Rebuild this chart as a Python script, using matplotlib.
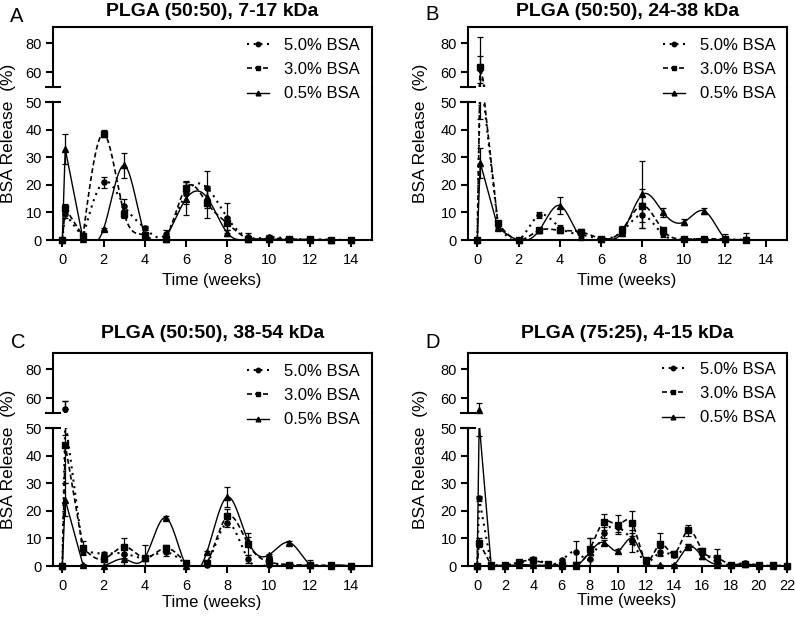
import numpy as np
import matplotlib
matplotlib.use("Agg")
import matplotlib.pyplot as plt
from matplotlib.lines import Line2D

plt.rcParams['font.family'] = ['Liberation Sans', 'DejaVu Sans']

# ---------------- data ----------------
weeks_AC = [0, 1/7] + list(range(1, 15))
weeks_B = [0, 1/7] + list(range(1, 14))
weeks_D = [0, 1/7] + list(range(1, 23))

A5 = [0, 9.5, 1.0, 21.0, 12.5, 4.3, 2.0, 17.0, 19.0, 8.0, 1.0, 1.0, 0.5, 0.2, 0.1, 0]
A5e = [0, 1.5, 0.5, 2.0, 2.5, 0.8, 1.5, 4.0, 6.0, 5.5, 1.5, 0.8, 0.3, 0.2, 0.1, 0]
A3 = [0, 11.5, 1.5, 38.5, 9.5, 1.8, 0.5, 19.0, 13.5, 6.0, 0.5, 0.5, 0.3, 0.2, 0.1, 0]
A3e = [0, 1.5, 0.5, 1.3, 1.5, 0.5, 0.5, 2.5, 5.5, 2.5, 0.5, 0.3, 0.2, 0.1, 0.1, 0]
A05 = [0, 33.0, 0.5, 4.0, 27.0, 1.5, 0.5, 15.0, 15.5, 2.5, 0.3, 0.3, 0.2, 0.1, 0.0, 0]
A05e = [0, 5.5, 0.3, 0.5, 4.5, 0.5, 0.5, 6.0, 4.0, 1.0, 0.2, 0.2, 0.1, 0.1, 0, 0]

B5 = [0, 62, 5.5, 0, 9.0, 4.5, 2.0, 0.5, 3.0, 9.0, 2.0, 0.3, 0.3, 0.2, 0.1]
B5e = [0, 9, 1.0, 0, 1.0, 0.8, 1.0, 0.3, 1.0, 4.5, 0.8, 0.2, 0.2, 0.1, 0.1]
B3 = [0, 64, 6.0, 0, 3.5, 3.5, 3.0, 0.5, 3.5, 12.5, 3.5, 0.3, 0.5, 0.2, 0.1]
B3e = [0, 20, 1.0, 0, 0.8, 0.8, 1.0, 0.3, 1.5, 6.0, 1.0, 0.2, 0.2, 0.1, 0.1]
B05 = [0, 28, 4.5, 0, 3.5, 12.5, 1.0, 0.5, 2.5, 16.5, 10.0, 6.5, 10.5, 0.5, 0.5]
B05e = [0, 5.5, 0.5, 0, 1.0, 3.2, 1.0, 0.3, 1.0, 12.0, 1.5, 1.0, 1.2, 1.5, 2.0]

C5 = [0, 53, 5.5, 4.5, 4.5, 3.0, 5.0, 0.5, 0.5, 15.5, 2.5, 0.5, 0.3, 0.2, 0.1, 0]
C5e = [0, 5.5, 1.0, 0.5, 1.5, 0.5, 1.5, 0.3, 0.3, 1.5, 1.5, 0.3, 0.2, 0.1, 0.1, 0]
C3 = [0, 44, 6.5, 2.5, 7.0, 3.0, 6.5, 1.0, 1.0, 18.0, 8.0, 1.5, 0.5, 0.3, 0.2, 0]
C3e = [0, 14, 2.5, 1.0, 3.0, 0.5, 1.0, 0.5, 1.0, 2.5, 4.0, 1.0, 0.3, 0.2, 0.1, 0]
C05 = [0, 24, 0.5, 0, 2.5, 3.0, 17.5, 0, 5.0, 25.0, 9.0, 4.0, 8.5, 0.5, 0.1, 0]
C05e = [0, 6, 0.3, 0, 2.0, 4.5, 0.5, 0, 0.5, 3.5, 1.5, 0.5, 0.5, 1.5, 0.1, 0]

D5 = [0, 24.5, 0.3, 0.3, 1.0, 2.5, 0.8, 2.0, 5.2, 2.5, 12.0, 14.0, 9.0, 1.5, 5.0, 4.0, 7.0, 5.0, 1.5, 0.5, 1.0, 0.2, 0.1, 0]
D5e = [0, 1.0, 0.2, 0.2, 0.5, 0.5, 0.5, 0.5, 3.8, 3.0, 2.0, 1.5, 4.0, 0.5, 1.5, 0.8, 1.0, 1.0, 1.0, 0.3, 0.3, 0.1, 0.1, 0]
D3 = [0, 8.5, 0.3, 0.3, 1.5, 2.0, 0.8, 0.3, 0.3, 6.0, 16.0, 15.0, 15.5, 2.0, 8.0, 4.5, 13.0, 5.5, 3.0, 0.5, 0.8, 0.2, 0.2, 0]
D3e = [0, 1.5, 0.2, 0.2, 0.5, 0.5, 0.5, 0.3, 0.3, 4.0, 3.0, 3.5, 4.5, 1.0, 4.0, 1.0, 2.0, 1.0, 3.0, 0.3, 0.3, 0.1, 0.1, 0]
D05 = [0, 52, 0.1, 0, 0.5, 0.3, 0.3, 0, 0, 5.0, 8.5, 5.5, 10.0, 1.5, 0.3, 0.5, 7.0, 3.5, 0.5, 0.3, 0.8, 0, 0, 0]
D05e = [0, 5, 0.1, 0, 0.3, 0.2, 0.2, 0, 0, 5.0, 1.0, 0.8, 2.0, 1.0, 0.2, 0.3, 1.0, 1.0, 0.3, 0.2, 0.3, 0, 0, 0]

series_labels = ['5.0% BSA', '3.0% BSA', '0.5% BSA']
titles = ['PLGA (50:50), 7-17 kDa', 'PLGA (50:50), 24-38 kDa',
          'PLGA (50:50), 38-54 kDa', 'PLGA (75:25), 4-15 kDa']
panel_letters = ['A', 'B', 'C', 'D']
lower_yticks = [0, 10, 20, 30, 40, 50]
upper_yticks = [60, 80]

# ---------------- helpers ----------------
W, H = 795, 617


def natural_spline(x, y, n=800):
    x = np.asarray(x, float)
    y = np.asarray(y, float)
    N = len(x)
    h = np.diff(x)
    A = np.zeros((N, N))
    b = np.zeros(N)
    A[0, 0] = 1
    A[-1, -1] = 1
    for i in range(1, N - 1):
        A[i, i - 1] = h[i - 1]
        A[i, i] = 2 * (h[i - 1] + h[i])
        A[i, i + 1] = h[i]
        b[i] = 6 * ((y[i + 1] - y[i]) / h[i] - (y[i] - y[i - 1]) / h[i - 1])
    M = np.linalg.solve(A, b)
    xs = np.union1d(np.linspace(x[0], x[-1], n), x)
    idx = np.clip(np.searchsorted(x, xs) - 1, 0, N - 2)
    x0 = x[idx]
    x1 = x[idx + 1]
    hh = x1 - x0
    t0 = x1 - xs
    t1 = xs - x0
    ys = (M[idx] * t0 ** 3 + M[idx + 1] * t1 ** 3) / (6 * hh) \
        + (y[idx] / hh - M[idx] * hh / 6) * t0 \
        + (y[idx + 1] / hh - M[idx + 1] * hh / 6) * t1
    return xs, ys


def connect(x, y):
    # straight segments through the initial burst, smooth spline afterwards
    xs, ys = natural_spline(x[2:], y[2:])
    return np.concatenate([x[:2], xs]), np.concatenate([y[:2], ys])


styles = [
    dict(ls=(0, (1.0, 2.2)), lw=1.5, marker='o', ms=3.7),
    dict(ls=(0, (3.0, 1.8)), lw=1.2, marker='s', ms=3.7),
    dict(ls='-', lw=1.0, marker='^', ms=3.9),
]

fig = plt.figure(figsize=(W / 100, H / 100), dpi=100)


def px_axes(l, r, top, bot):
    return fig.add_axes([l / W, 1 - bot / H, (r - l) / W, (bot - top) / H])


def ftext(x, y, s, **kw):
    fig.text(x / W, 1 - y / H, s, **kw)


panels = [
    dict(weeks=weeks_AC, data=[(A5, A5e), (A3, A3e), (A05, A05e)], l=53, r=372,
         ut=27, ub=87, lt=102, lb=240, xlim=(-0.45, 15.0), xticks=range(0, 15, 2),
         title_xy=(212, 11), let_xy=(17, 17), yl_xy=(9, 133), xl_xy=(212, 280),
         leg_xy=(247, 38)),
    dict(weeks=weeks_B, data=[(B5, B5e), (B3, B3e), (B05, B05e)], l=468, r=787,
         ut=27, ub=87, lt=102, lb=240, xlim=(-0.45, 15.0), xticks=range(0, 15, 2),
         title_xy=(628, 11), let_xy=(432, 15), yl_xy=(421, 133), xl_xy=(627, 280),
         leg_xy=(663, 38)),
    dict(weeks=weeks_AC, data=[(C5, C5e), (C3, C3e), (C05, C05e)], l=53, r=372,
         ut=353, ub=413, lt=428, lb=566, xlim=(-0.45, 15.0), xticks=range(0, 15, 2),
         title_xy=(213, 334), let_xy=(18, 343), yl_xy=(9, 459), xl_xy=(212, 602),
         leg_xy=(247, 364)),
    dict(weeks=weeks_D, data=[(D5, D5e), (D3, D3e), (D05, D05e)], l=468, r=787,
         ut=353, ub=413, lt=428, lb=566, xlim=(-0.65, 22.0), xticks=range(0, 23, 2),
         title_xy=(627, 334), let_xy=(433, 343), yl_xy=(421, 459), xl_xy=(627, 600),
         leg_xy=(662, 362)),
]

for k, p in enumerate(panels):
    ax_up = px_axes(p['l'], p['r'], p['ut'], p['ub'])
    ax_lo = px_axes(p['l'], p['r'], p['lt'], p['lb'])
    for ax in (ax_up, ax_lo):
        ax.set_facecolor('none')
        ax.set_xlim(*p['xlim'])
        for s in ax.spines.values():
            s.set_linewidth(1.5)
        ax.tick_params(axis='both', width=1.5, length=5, labelsize=10.5, pad=3, direction='out')
    ax_up.set_ylim(50, 91)
    ax_lo.set_ylim(0, 50)
    ax_up.spines['bottom'].set_visible(False)
    ax_lo.spines['top'].set_visible(False)
    ax_up.set_xticks([])
    ax_up.set_yticks(upper_yticks)
    ax_lo.set_yticks(lower_yticks)
    ax_lo.set_xticks(list(p['xticks']))
    ax_lo.tick_params(axis='x', pad=4)

    x = np.asarray(p['weeks'], float)
    for (vals, errs), st in zip(p['data'], styles):
        y = np.asarray(vals, float)
        e = np.asarray(errs, float)
        xs, ys = connect(x, y)
        for ax, (lo, hi) in ((ax_up, (50, 91)), (ax_lo, (0, 50))):
            ax.plot(xs, ys, color='k', ls=st['ls'], lw=st['lw'], zorder=2)
            m = e > 0
            ax.errorbar(x[m], y[m], yerr=e[m], fmt='none', ecolor='k',
                        elinewidth=0.9, capsize=2.5, capthick=0.9, zorder=3)
            inr = (y >= lo) & (y <= hi)
            ax.plot(x[inr], y[inr], ls='none', marker=st['marker'], ms=st['ms'],
                    color='k', clip_on=False, zorder=4)

    # break caps on left axis
    ax_up.plot([0], [0], marker='_', ms=11, mew=1.5, color='k',
               transform=ax_up.transAxes, clip_on=False)
    ax_lo.plot([0], [1], marker='_', ms=11, mew=1.5, color='k',
               transform=ax_lo.transAxes, clip_on=False)
    # continuous right border
    fig.add_artist(Line2D([p['r'] / W, p['r'] / W], [1 - p['lt'] / H, 1 - p['ub'] / H],
                          transform=fig.transFigure, color='k', lw=1.5))

    handles = [Line2D([], [], color='k', ls=st['ls'], lw=st['lw'], marker=st['marker'],
                      ms=st['ms'] - 0.5) for st in styles]
    fig.legend(handles, series_labels, loc='upper left',
               bbox_to_anchor=(p['leg_xy'][0] / W, 1 - p['leg_xy'][1] / H),
               bbox_transform=fig.transFigure, frameon=False, fontsize=12,
               borderpad=0, borderaxespad=0, handlelength=1.3, handletextpad=0.95,
               labelspacing=0.55, numpoints=1)

    ftext(*p['title_xy'], titles[k], fontsize=14, fontweight='bold', ha='center', va='center')
    ftext(*p['let_xy'], panel_letters[k], fontsize=14.5, ha='center', va='center')
    ftext(*p['yl_xy'], 'BSA Release  (%)', fontsize=12.5, rotation=90, ha='center', va='center')
    ftext(*p['xl_xy'], 'Time (weeks)', fontsize=12, ha='center', va='center')

fig.savefig('out.png', dpi=100)
